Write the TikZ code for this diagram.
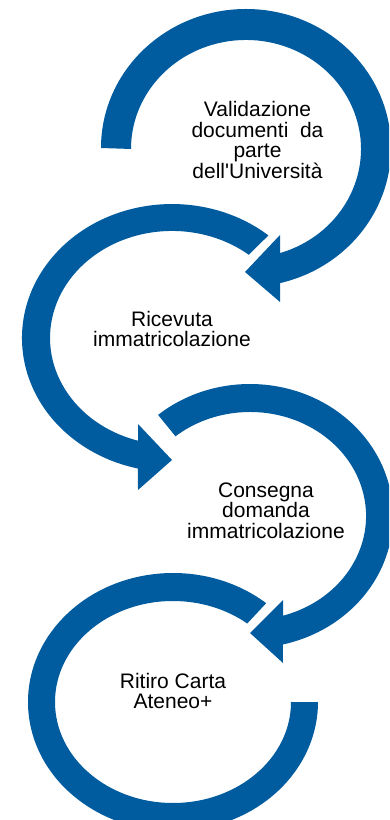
\documentclass[tikz,border=0pt]{standalone}
\usepackage{fontspec}
\setmainfont{Liberation Sans}[Ligatures=TeXOff]
\definecolor{arcblue}{RGB}{0,92,158}

\begin{document}
\begin{tikzpicture}[x=1pt,y=1pt]
  \tikzset{lbl/.style={align=center, inner sep=0pt, font=\fontsize{21}{20.5}\selectfont}}
  \useasboundingbox (0,0) rectangle (389,820);
  \clip (0,0) rectangle (389,820);
  % arrow 1
  \fill[arcblue] (101,672) arc[start angle=180, end angle=-76.4, x radius=145, y radius=139]
    -- (280,518) -- (245,548) -- (280,585) -- (280,566.9)
    arc[start angle=-72.8, end angle=180, x radius=115, y radius=109] -- cycle;
  % arrow 2
  \fill[arcblue] (268.4,584.6) arc[start angle=50, end angle=256.9, x radius=150, y radius=134]
    -- (138,330) -- (172,360) -- (138,396) -- (138,379.3)
    arc[start angle=253.8, end angle=51, x radius=122, y radius=107] -- cycle;
  % arrow 3
  \fill[arcblue] (158.1,405.1) arc[start angle=130, end angle=-76.7, x radius=143, y radius=132]
    -- (283,157) -- (250,187) -- (283,220) -- (283,204.3)
    arc[start angle=-73.5, end angle=130, x radius=116, y radius=104] -- cycle;
  % arc 4
  \fill[arcblue] (266.2,216.8) arc[start angle=50, end angle=360, x radius=145, y radius=129]
    -- (291,118)
    arc[start angle=360, end angle=51, x radius=118, y radius=101] -- cycle;
  \node[lbl] (t0) at (257.5,680) {Validazione\\documenti\ \ da\\parte\\dell'Università};
  \node[lbl] (t1) at (172,491) {Ricevuta\\immatricolazione};
  \node[lbl] (t2) at (266,309.5) {Consegna\\domanda\\immatricolazione};
  \node[lbl] (t3) at (173,129) {Ritiro Carta\\Ateneo+};
\end{tikzpicture}
\end{document}
